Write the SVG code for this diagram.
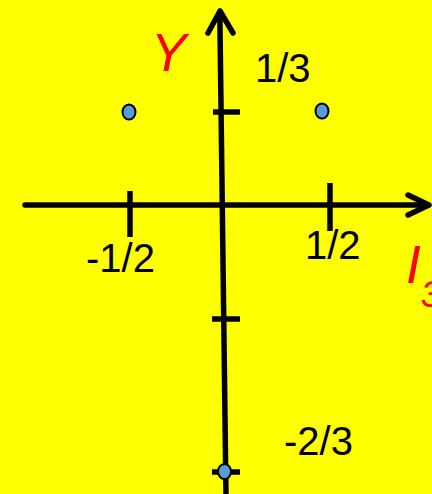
<svg xmlns="http://www.w3.org/2000/svg" width="432" height="494" viewBox="0 0 432 494">
<style>
.ax{stroke:#000;stroke-width:5.5;fill:none;stroke-linecap:round;stroke-linejoin:round}
.tk{stroke:#000;stroke-width:5.5;fill:none}
.lb{font-family:"Liberation Sans",Arial,sans-serif;font-size:40px;fill:#000}
.rl{font-family:"Liberation Sans",Arial,sans-serif;font-style:italic;font-size:53px;fill:#ff0000}
.pt{fill:#5b9bd5;stroke:#000;stroke-width:2}
</style>
<rect width="432" height="494" fill="#ffff00"/>
<g id="connectors">
<line class="ax" x1="25" y1="205" x2="428" y2="205"/>
<polyline class="ax" points="408,195 429,205 408,215"/>
<line class="ax" x1="219.8" y1="12" x2="226" y2="496"/>
<polyline class="ax" points="208,33 220,11 233,33"/>
<line class="tk" x1="130" y1="191" x2="130" y2="237"/>
<line class="tk" x1="330" y1="183" x2="330" y2="231"/>
<line class="tk" x1="213" y1="112" x2="240" y2="112"/>
<line class="tk" x1="212" y1="319" x2="240" y2="319"/>
<line class="tk" x1="212" y1="472" x2="240" y2="472"/>
</g>
<g id="labels">
<text class="rl" x="151" y="71">Y</text>
<text class="rl" x="406" y="283">I<tspan font-size="36" dy="24">3</tspan></text>
<text class="lb" x="255" y="82">1/3</text>
<text class="lb" x="86" y="272">-1/2</text>
<text class="lb" x="305" y="259">1/2</text>
<text class="lb" x="284" y="455">-2/3</text>
</g>
<g id="p1"><ellipse class="pt" cx="129" cy="112" rx="6.5" ry="7.5"/></g>
<g id="p2"><ellipse class="pt" cx="322" cy="111" rx="6.5" ry="7.5"/></g>
<g id="p3"><ellipse class="pt" cx="224.5" cy="471.5" rx="6.5" ry="7.5"/></g>
</svg>
